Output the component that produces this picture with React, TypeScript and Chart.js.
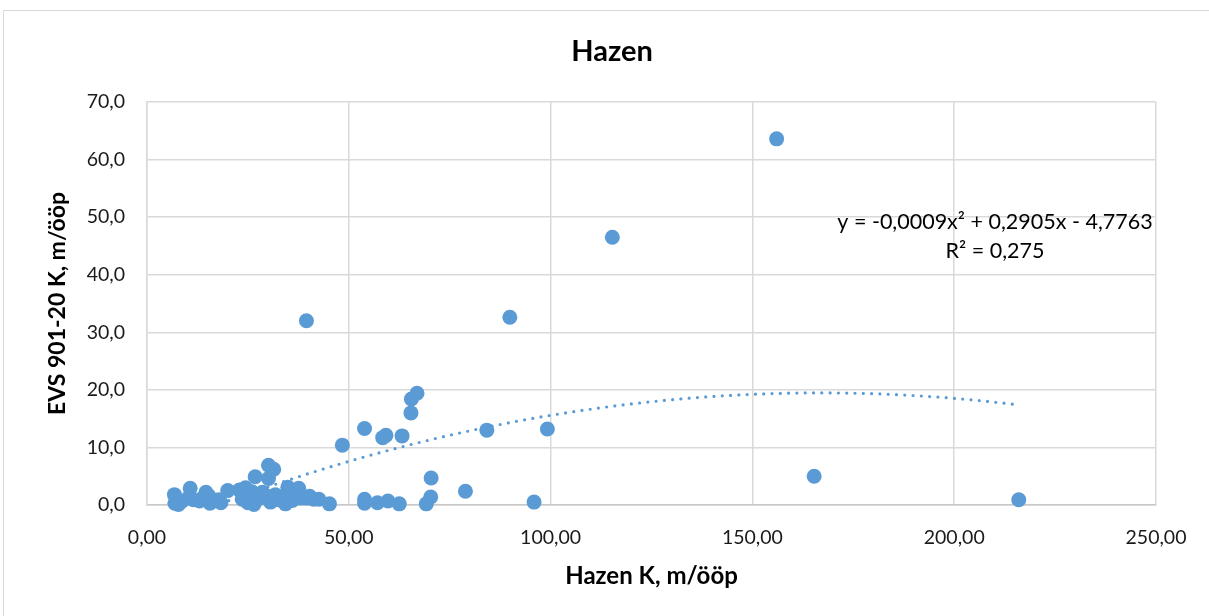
import React, { useEffect, useRef } from "react";
import { Chart, registerables } from "chart.js";

Chart.register(...registerables);

// Measured Hazen K (x) against EVS 901-20 K (y), both in m/ööp
const hazenK: number[] = [
  6.8, 6.9, 7.8, 8.6, 10.7, 10.2, 11.5, 13.0, 13.8, 14.6,
  15.3, 15.6, 16.4, 17.8, 18.3, 20.0, 22.9, 23.6, 24.4, 25.0,
  26.0, 26.5, 26.8, 27.9, 28.6, 29.6, 30.1, 31.4, 30.1, 30.6,
  31.8, 32.5, 33.6, 34.3, 34.9, 35.3, 36.0, 36.6, 37.6, 38.2,
  39.6, 40.3, 41.3, 42.6, 45.2, 39.5, 48.4, 53.9, 53.9, 53.9,
  57.1, 58.4, 59.2, 59.7, 62.5, 63.2, 65.4, 65.5, 66.9, 69.2,
  70.3, 70.4, 78.9, 84.2, 89.9, 95.9, 99.2, 115.3, 156.0, 165.3,
  216.0,
];

const evsK: number[] = [
  1.8, 0.3, 0.1, 0.6, 2.9, 1.2, 0.9, 0.7, 1.2, 2.2,
  1.6, 0.3, 0.8, 0.9, 0.4, 2.5, 2.6, 1.0, 3.0, 0.4,
  2.3, 0.1, 4.9, 1.2, 2.2, 1.5, 6.9, 6.2, 4.6, 0.5,
  1.8, 0.9, 1.4, 0.2, 3.1, 1.9, 0.8, 2.2, 2.9, 1.2,
  1.2, 1.5, 1.0, 1.0, 0.2, 32.0, 10.4, 13.3, 1.0, 0.3,
  0.4, 11.7, 12.1, 0.7, 0.2, 12.0, 16.0, 18.4, 19.4, 0.2,
  1.4, 4.7, 2.4, 13.0, 32.6, 0.5, 13.2, 46.5, 63.6, 5.0,
  0.9,
];

// Second-order polynomial trend: a*x^2 + b*x + c
const trendCoefs: number[] = [-0.00087, 0.2905, -4.7763];
const trendR2 = 0.275;

const xTicks: number[] = [0, 50, 100, 150, 200, 250];
const yTicks: number[] = [0, 10, 20, 30, 40, 50, 60, 70];

const chartTitle = "Hazen";
const xTitle = "Hazen K, m/ööp";
const yTitle = "EVS 901-20 K, m/ööp";

const BLUE = "#5B9BD5";
const GRID = "#D9D9D9";
const FONT = "Lato, 'Liberation Sans', sans-serif";

const comma = (v: number, d: number) => v.toFixed(d).replace(".", ",");

function trendLabel(): string[] {
  const [a, b, c] = trendCoefs;
  const sign = (v: number) => (v < 0 ? " - " : " + ");
  const line1 =
    "y = " + comma(a, 4) + "x²" + sign(b) + comma(Math.abs(b), 4) + "x" + sign(c) + comma(Math.abs(c), 4);
  const line2 = "R² = " + comma(trendR2, 3);
  return [line1, line2];
}

const textPlugin = {
  id: "chartText",
  afterDraw(chart: Chart) {
    const { ctx } = chart;
    ctx.save();
    ctx.fillStyle = "#000";
    ctx.textAlign = "center";
    ctx.textBaseline = "middle";
    ctx.font = "bold 29px " + FONT;
    ctx.fillText(chartTitle, 612, 52);
    ctx.font = "21.5px " + FONT;
    const [l1, l2] = trendLabel();
    ctx.fillText(l1, 995, 222);
    ctx.fillText(l2, 995, 251);
    ctx.restore();
  },
};

export default function App() {
  const ref = useRef<HTMLCanvasElement | null>(null);

  useEffect(() => {
    if (!ref.current) return;
    const points = hazenK.map((x, i) => ({ x, y: evsK[i] }));
    const xMin = Math.min(...hazenK);
    const xMax = Math.max(...hazenK);
    const [a, b, c] = trendCoefs;
    const trend: { x: number; y: number }[] = [];
    const steps = 200;
    for (let i = 0; i <= steps; i++) {
      const x = xMin + ((xMax - xMin) * i) / steps;
      trend.push({ x, y: a * x * x + b * x + c });
    }

    const chart = new Chart(ref.current, {
      type: "scatter",
      data: {
        datasets: [
          {
            data: trend,
            showLine: true,
            pointRadius: 0,
            borderColor: BLUE,
            borderWidth: 3.2,
            borderDash: [0, 8.3],
            borderCapStyle: "round",
            order: 0,
          } as any,
          {
            data: points,
            pointRadius: 7.5,
            pointBorderWidth: 0,
            backgroundColor: BLUE,
            borderColor: BLUE,
            clip: false,
            order: 1,
          } as any,
        ],
      },
      options: {
        animation: false,
        responsive: true,
        maintainAspectRatio: false,
        layout: { padding: { top: 102, right: 53, bottom: 0, left: 0 } },
        plugins: {
          legend: { display: false },
          tooltip: { enabled: false },
          title: { display: false },
        },
        scales: {
          x: {
            type: "linear",
            min: 0,
            max: 250,
            afterBuildTicks: (s: any) => {
              s.ticks = xTicks.map((v) => ({ value: v }));
            },
            afterFit: (s: any) => {
              s.height = 111;
            },
            ticks: {
              padding: 21,
              color: "#1a1a1a",
              font: { family: FONT, size: 19.5 },
              callback: (v: any) => comma(Number(v), 2),
            },
            grid: { color: GRID, lineWidth: 1.5, drawTicks: false },
            border: { color: "#C8C8C8", width: 1.5 },
            title: {
              display: true,
              text: xTitle,
              color: "#000",
              font: { family: FONT, size: 24, weight: "bold" },
              padding: { top: 0, bottom: 25 },
            },
          },
          y: {
            type: "linear",
            min: 0,
            max: 70,
            afterBuildTicks: (s: any) => {
              s.ticks = yTicks.map((v) => ({ value: v }));
            },
            afterFit: (s: any) => {
              s.width = 147;
            },
            ticks: {
              padding: 22,
              color: "#1a1a1a",
              font: { family: FONT, size: 19.5 },
              callback: (v: any) => comma(Number(v), 1),
            },
            grid: { color: GRID, lineWidth: 1.5, drawTicks: false },
            border: { color: GRID, width: 1.5 },
            title: {
              display: true,
              text: yTitle,
              color: "#000",
              font: { family: FONT, size: 23, weight: "bold" },
              padding: { top: 44, bottom: 0 },
            },
          },
        },
      },
      plugins: [textPlugin],
    });
    return () => chart.destroy();
  }, []);

  return (
    <div style={{ position: "absolute", left: 0, top: 0, width: 1209, height: 616, overflow: "hidden", background: "#fff" }}>
      <div
        style={{
          position: "absolute",
          left: 3,
          top: 10,
          width: 1240,
          height: 640,
          border: "1px solid #D9D9D9",
          boxSizing: "border-box",
        }}
      />
      <div style={{ position: "absolute", left: 0, top: 0, width: 1209, height: 616 }}>
        <canvas ref={ref} />
      </div>
    </div>
  );
}
